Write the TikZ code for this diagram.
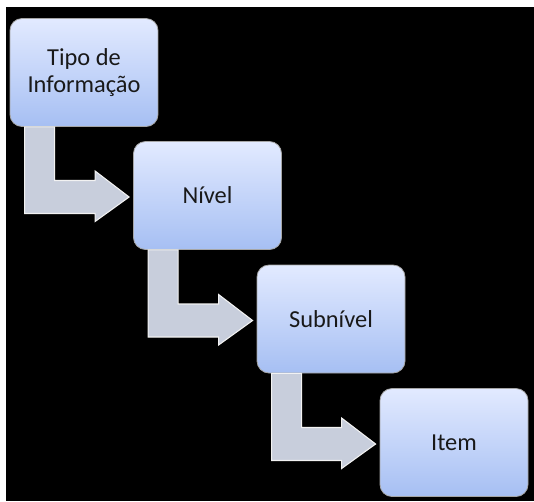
\documentclass[tikz,border=0pt]{standalone}
\usepackage{fontspec}
\setmainfont{Carlito}
\usetikzlibrary{calc}
\definecolor{boxtop}{HTML}{E2EAFF}
\definecolor{boxbot}{HTML}{A6BFF3}
\definecolor{arrowfill}{HTML}{C8CEDC}
\tikzset{
  levelbox/.style={rectangle, rounded corners=9pt, draw=gray!70, line width=0.6pt,
    top color=boxtop, bottom color=boxbot, minimum width=111pt, minimum height=81pt,
    align=center, font=\fontsize{18.3}{20.5}\selectfont, text=black!90},
  bentarrow/.style={fill=arrowfill, draw=white!90!gray, line width=0.8pt, line join=miter}
}
\newcommand{\stepdown}[2]{%
  \draw[bentarrow] ($(#1.south west)+(15,0)$) -- ($(#1.south west)+(45,0)$)
    |- ($(#2.west)+(-38,-15)$) -- ($(#2.west)+(-38,-24.5)$) -- ($(#2.west)+(-4,1.5)$)
    -- ($(#2.west)+(-38,26)$) -- ($(#2.west)+(-38,18)$) -| ($(#1.south west)+(15,0)$) -- cycle;}
\begin{document}
\begin{tikzpicture}[x=0.75pt, y=-0.75pt]
  \useasboundingbox (0,0) rectangle (534,501);
  \fill[white] (0,0) rectangle (534,501);
  \fill[black] (6,7) rectangle (534,501);
  % the four levels
  \node[levelbox] (tipo) at (84,72.5) {Tipo de\\Informação};
  \node[levelbox] (nivel) at (207.5,195.5) {Nível};
  \node[levelbox] (subnivel) at (331,319) {Subnível};
  \node[levelbox] (item) at (454,442.5) {Item};
  % bent arrows between them
  \stepdown{tipo}{nivel}
  \stepdown{nivel}{subnivel}
  \stepdown{subnivel}{item}
\end{tikzpicture}
\end{document}
